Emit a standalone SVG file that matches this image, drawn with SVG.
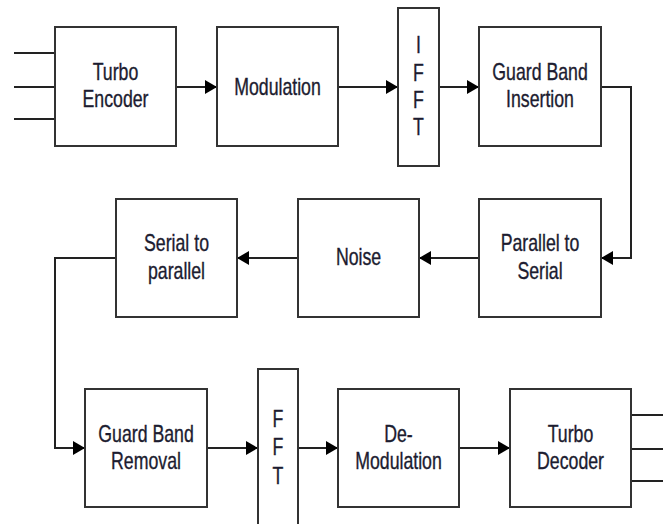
<svg xmlns="http://www.w3.org/2000/svg" width="663" height="524" viewBox="0 0 663 524">
<style>
.box{fill:#fff;stroke:#333;stroke-width:2}
.ln{fill:none;stroke:#222;stroke-width:2}
.t{font-family:"Liberation Sans",Arial,sans-serif;font-size:23px;fill:#1c1c30;stroke:#1c1c30;stroke-width:0.35;text-anchor:middle}
</style>
<defs>
<marker id="ah" markerUnits="userSpaceOnUse" markerWidth="12" markerHeight="14" refX="12" refY="7" orient="auto">
<path d="M0,0 L12,7 L0,14 Z" fill="#000"/>
</marker>
</defs>
<rect width="663" height="524" fill="#fff"/>
<g id="connectors">
<path class="ln" d="M14,53 H55 M14,87 H55 M14,119 H55"/>
<path class="ln" d="M631,415 H663 M631,449 H663 M631,481 H663"/>
<path class="ln" d="M176,87 H217" marker-end="url(#ah)"/>
<path class="ln" d="M338,87 H398" marker-end="url(#ah)"/>
<path class="ln" d="M439,87 H479" marker-end="url(#ah)"/>
<path class="ln" d="M601,87 H631 V258 H601" marker-end="url(#ah)"/>
<path class="ln" d="M479,258 H419" marker-end="url(#ah)"/>
<path class="ln" d="M298,258 H237" marker-end="url(#ah)"/>
<path class="ln" d="M116,258 H55 V448 H85" marker-end="url(#ah)"/>
<path class="ln" d="M207,448 H258" marker-end="url(#ah)"/>
<path class="ln" d="M298,448 H338" marker-end="url(#ah)"/>
<path class="ln" d="M459,448 H510" marker-end="url(#ah)"/>
</g>
<g id="turbo-encoder">
<rect class="box" x="55" y="27" width="121" height="119"/>
<text class="t" transform="translate(115.5,80) scale(0.77,1)"><tspan x="0">Turbo</tspan><tspan x="0" dy="27">Encoder</tspan></text>
</g>
<g id="modulation">
<rect class="box" x="217" y="27" width="121" height="119"/>
<text class="t" transform="translate(277.5,95) scale(0.77,1)">Modulation</text>
</g>
<g id="ifft">
<rect class="box" x="398" y="8" width="41" height="158"/>
<text class="t" transform="translate(418.5,53) scale(0.77,1)"><tspan x="0">I</tspan><tspan x="0" dy="28">F</tspan><tspan x="0" dy="27">F</tspan><tspan x="0" dy="27">T</tspan></text>
</g>
<g id="guard-band-insertion">
<rect class="box" x="479" y="27" width="122" height="119"/>
<text class="t" transform="translate(540,80) scale(0.77,1)"><tspan x="0">Guard Band</tspan><tspan x="0" dy="27">Insertion</tspan></text>
</g>
<g id="parallel-to-serial">
<rect class="box" x="479" y="199" width="122" height="118"/>
<text class="t" transform="translate(540,251) scale(0.77,1)"><tspan x="0">Parallel to</tspan><tspan x="0" dy="28">Serial</tspan></text>
</g>
<g id="noise">
<rect class="box" x="298" y="199" width="121" height="118"/>
<text class="t" transform="translate(358.5,265) scale(0.77,1)">Noise</text>
</g>
<g id="serial-to-parallel">
<rect class="box" x="116" y="199" width="121" height="118"/>
<text class="t" transform="translate(176.5,251) scale(0.77,1)"><tspan x="0">Serial to</tspan><tspan x="0" dy="28">parallel</tspan></text>
</g>
<g id="guard-band-removal">
<rect class="box" x="85" y="389" width="122" height="118"/>
<text class="t" transform="translate(146,442) scale(0.77,1)"><tspan x="0">Guard Band</tspan><tspan x="0" dy="27">Removal</tspan></text>
</g>
<g id="fft">
<rect class="box" x="258" y="369" width="40" height="162"/>
<text class="t" transform="translate(278,427) scale(0.77,1)"><tspan x="0">F</tspan><tspan x="0" dy="28">F</tspan><tspan x="0" dy="29">T</tspan></text>
</g>
<g id="de-modulation">
<rect class="box" x="338" y="389" width="121" height="118"/>
<text class="t" transform="translate(398.5,442) scale(0.77,1)"><tspan x="0">De-</tspan><tspan x="0" dy="27">Modulation</tspan></text>
</g>
<g id="turbo-decoder">
<rect class="box" x="510" y="389" width="121" height="118"/>
<text class="t" transform="translate(570.5,442) scale(0.77,1)"><tspan x="0">Turbo</tspan><tspan x="0" dy="27">Decoder</tspan></text>
</g>
</svg>
